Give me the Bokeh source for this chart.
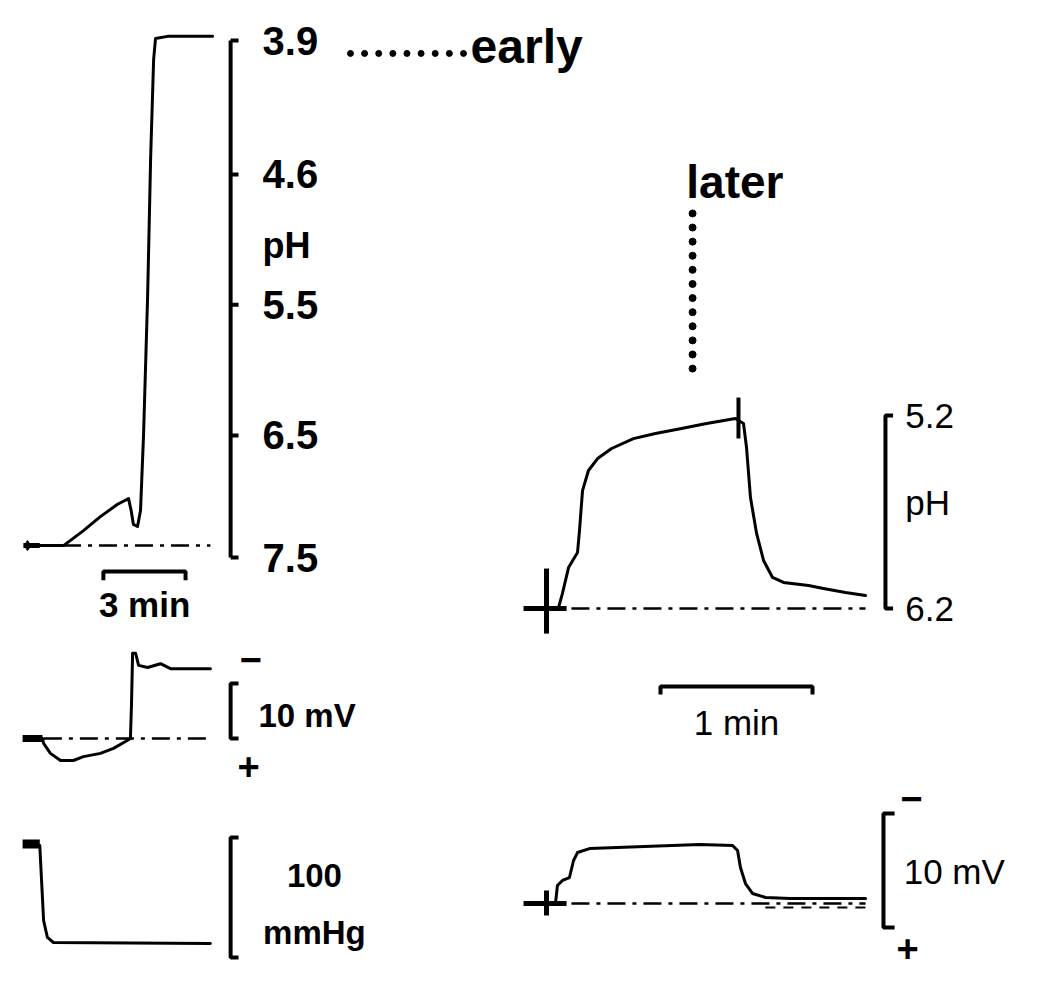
import numpy as np
from bokeh.plotting import figure
from bokeh.models import Range1d
from bokeh.core.properties import value
from bokeh.embed import file_html
from bokeh.resources import INLINE

# ---------------- DATA ----------------
# Early recording (left), time in minutes
a_ph_time = [0.0, 0.45, 1.32, 2.05, 2.67, 3.30, 3.70, 3.80, 3.88, 4.03, 4.14, 4.25, 4.40, 4.51, 4.62, 4.69, 5.13, 6.78]
# chart deflection, % of the 7.5 -> 3.9 calibration span
a_ph_chart = [2.3, 2.3, 2.3, 5.2, 7.9, 10.3, 11.4, 9.0, 6.4, 6.0, 9.1, 23.6, 50.5, 77.2, 96.3, 100.4, 100.8, 100.8]
a_ph_tick_labels = ["3.9", "4.6", "5.5", "6.5", "7.5"]
a_ph_tick_chart = [100.0, 74.1, 48.9, 23.6, 0.0]

a_mv_time = [0.55, 0.59, 0.84, 1.21, 1.68, 2.05, 2.67, 3.15, 3.59, 3.77, 3.81, 3.85, 3.96, 4.07, 4.40, 4.87, 5.24, 6.70]
a_mv = [0.0, -0.9, -2.7, -4.0, -4.0, -3.3, -2.7, -1.8, -0.55, 0.0, 6.4, 15.5, 15.5, 13.3, 12.9, 13.6, 12.7, 12.7]

a_p_time = [0.45, 0.59, 0.73, 0.95, 6.70]
a_p_mmhg = [93.3, 30.8, 16.7, 12.5, 11.7]

# Later recording (right), time in minutes
b_ph_time = [0.0, 0.079, 0.105, 0.145, 0.204, 0.217, 0.237, 0.276, 0.336, 0.428, 0.572, 0.717, 0.888, 1.053,
             1.243, 1.296, 1.316, 1.342, 1.382, 1.428, 1.487, 1.559, 1.724, 1.822, 1.967, 2.099]
b_ph = [6.2, 6.195, 6.122, 5.988, 5.910, 5.796, 5.589, 5.485, 5.423, 5.371, 5.320, 5.293, 5.267, 5.241,
        5.216, 5.241, 5.366, 5.625, 5.811, 5.951, 6.039, 6.065, 6.081, 6.096, 6.117, 6.133]
b_ph_tick_labels = ["5.2", "6.2"]
b_ph_ticks = [5.2, 6.2]

b_mv_time = [0.0, 0.059, 0.072, 0.105, 0.151, 0.178, 0.204, 0.283, 0.645, 1.007, 1.224, 1.257, 1.276, 1.309,
             1.355, 1.441, 1.605, 2.099]
b_mv = [0.0, 0.0, 1.58, 2.02, 2.28, 3.77, 4.47, 4.82, 5.0, 5.18, 5.09, 4.65, 3.16, 1.75, 0.88, 0.53, 0.44, 0.44]

# ---------------- LAYOUT ----------------
W, H, M = 1034, 971, 0


def xr(x0, t0, k):
    return Range1d(t0 + (M - x0) / k, t0 + (M + W - x0) / k)


def yr(y0, v0, k):
    return Range1d(v0 + (y0 - M - H) / k, v0 + (y0 - M) / k)


p = figure(width=W, height=H, x_range=(0, 1), y_range=(0, 1), output_backend="svg",
           toolbar_location=None, x_axis_type=None, y_axis_type=None, min_border=0)
p.grid.visible = False
p.outline_line_color = None
p.background_fill_color = "white"
p.border_fill_color = "white"

p.extra_x_ranges = {"tL": xr(27, 0.0, 27.3), "tR": xr(546, 0.0, 152.0)}
p.extra_y_ranges = {
    "phL": yr(557, 0.0, 5.17),
    "mvL": yr(738, 0.0, 5.5),
    "pL": yr(957, 0.0, 1.2),
    "phR": yr(608, 6.2, -193.0),
    "mvR": yr(903, 0.0, 11.4),
}

K = "black"
FONT = value("Liberation Sans")
DASH = "18 7 4 7"


def L(xn, yn):
    return dict(x_range_name=xn, y_range_name=yn)


def txt(x, y, t, xn, yn, size, bold=True, align="left", baseline="middle"):
    p.text(x=x, y=y, text=t, text_font=FONT, text_font_size=size,
           text_font_style="bold" if bold else "normal", text_color=K,
           text_align=align, text_baseline=baseline, **L(xn, yn))


# ===== Left: pH (early) =====
g = L("tL", "phL")
p.line(a_ph_time, a_ph_chart, line_color=K, line_width=3, line_join="round", line_cap="round", **g)
p.line([-0.15, 0.45], [a_ph_chart[0]] * 2, line_color=K, line_width=5, **g)
p.scatter([0.0], [a_ph_chart[0]], size=10, marker="diamond", color=K, **g)
p.line([1.3, 6.7], [a_ph_chart[0]] * 2, line_color=K, line_width=2.5, line_dash=DASH, **g)
# scale bar
p.line([7.44, 7.44], [0, 100], line_color=K, line_width=4, **g)
p.segment([7.44] * 5, a_ph_tick_chart, [7.73] * 5, a_ph_tick_chart, line_color=K, line_width=4, **g)
txt([8.61] * 5, a_ph_tick_chart, a_ph_tick_labels, "tL", "phL", "40px")
txt([8.61], [60.3], ["pH"], "tL", "phL", "36px")
# time bar 3 min
p.line([2.78, 2.78, 5.79, 5.79], [-4.4, -2.7, -2.7, -4.4], line_color=K, line_width=4, **g)
txt([4.29], [-9.1], ["3 min"], "tL", "phL", "35px", align="center")
# early marker
p.scatter(list(np.linspace(11.83, 15.97, 9)), [97.5] * 9, size=6, color=K, **g)
txt([16.23], [98.8], ["early"], "tL", "phL", "48px")

# ===== Left: mV =====
g = L("tL", "mvL")
p.line(a_mv_time, a_mv, line_color=K, line_width=3, line_join="round", line_cap="round", **g)
p.line([-0.18, 0.55], [0, 0], line_color=K, line_width=7, **g)
p.line([0.6, 6.7], [0, 0], line_color=K, line_width=2.5, line_dash=DASH, **g)
p.line([7.73, 7.44, 7.44, 7.73], [0, 0, 10, 10], line_color=K, line_width=4, **g)
txt([8.46], [4.2], ["10 mV"], "tL", "mvL", "33px")
txt([8.17], [14.4], ["\u2212"], "tL", "mvL", "38px", align="center")
txt([8.10], [-5.1], ["+"], "tL", "mvL", "38px", align="center")

# ===== Left: mmHg =====
g = L("tL", "pL")
p.line(a_p_time, a_p_mmhg, line_color=K, line_width=3, line_join="round", line_cap="round", **g)
p.line([-0.18, 0.45], [94.5, 94.5], line_color=K, line_width=9, **g)
p.line([7.73, 7.44, 7.44, 7.73], [0, 0, 100, 100], line_color=K, line_width=4, **g)
txt([10.51], [68.3], ["100"], "tL", "pL", "33px", align="center")
txt([10.51], [20.8], ["mmHg"], "tL", "pL", "33px", align="center")

# ===== Right: pH (later) =====
g = L("tR", "phR")
p.line(b_ph_time, b_ph, line_color=K, line_width=3, line_join="round", line_cap="round", **g)
p.line([0.164, 2.099], [6.2, 6.2], line_color=K, line_width=2.5, line_dash=DASH, **g)
p.line([0, 0], [5.993, 6.330], line_color=K, line_width=5, **g)
p.line([-0.151, 0.132], [6.2, 6.2], line_color=K, line_width=5, **g)
p.line([1.263, 1.263], [5.107, 5.319], line_color=K, line_width=4, **g)
p.line([2.28, 2.23, 2.23, 2.28], [5.2, 5.2, 6.2, 6.2], line_color=K, line_width=4, **g)
txt([2.36] * 2, b_ph_ticks, b_ph_tick_labels, "tR", "phR", "35px", bold=False)
txt([2.36], [5.65], ["pH"], "tR", "phR", "35px", bold=False)
# later marker
p.scatter([0.961] * 12, list(np.linspace(4.153, 4.957, 12)), size=7, marker="circle", color=K, **g)
txt([0.92], [3.988], ["later"], "tR", "phR", "46px")
# time bar 1 min
p.line([0.75, 0.75, 1.75, 1.75], [6.646, 6.604, 6.604, 6.646], line_color=K, line_width=4, **g)
txt([1.25], [6.79], ["1 min"], "tR", "phR", "35px", bold=False, align="center")

# ===== Right: mV =====
g = L("tR", "mvR")
p.line(b_mv_time, b_mv, line_color=K, line_width=3, line_join="round", line_cap="round", **g)
p.line([0.164, 2.099], [0, 0], line_color=K, line_width=2.5, line_dash=DASH, **g)
p.line([1.44, 2.099], [-0.35, -0.35], line_color=K, line_width=2, line_dash="10 8", **g)
p.line([0, 0], [-1.05, 1.14], line_color=K, line_width=5, **g)
p.line([-0.151, 0.132], [0, 0], line_color=K, line_width=5, **g)
p.line([2.29, 2.217, 2.217, 2.29], [-2.1, -2.1, 7.9, 7.9], line_color=K, line_width=4, **g)
txt([2.35], [2.8], ["10  mV"], "tR", "mvR", "35px", bold=False)
txt([2.40], [9.2], ["\u2212"], "tR", "mvR", "38px", align="center")
txt([2.375], [-3.95], ["+"], "tR", "mvR", "38px", align="center")

open("out.html", "w").write(file_html(p, INLINE))
